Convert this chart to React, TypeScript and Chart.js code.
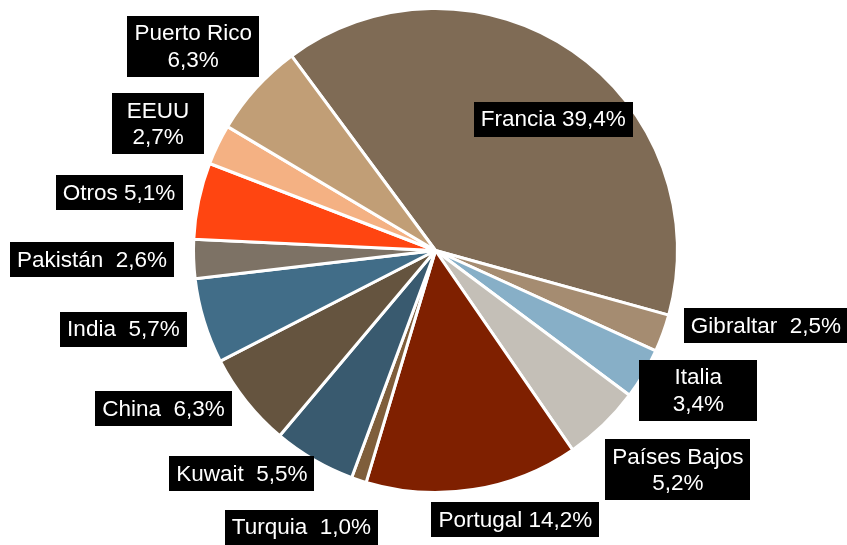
import React, { useEffect, useRef } from "react";
import { Chart, registerables } from "chart.js";

Chart.register(...registerables);

const countries = [
  "Francia", "Gibraltar", "Italia", "Países Bajos", "Portugal", "Turquia",
  "Kuwait", "China", "India", "Pakistán", "Otros", "EEUU", "Puerto Rico",
];
const shares = [39.4, 2.5, 3.4, 5.2, 14.2, 1.0, 5.5, 6.3, 5.7, 2.6, 5.1, 2.7, 6.3];
const separators = [" ", "  ", "\n", "\n", " ", "  ", "  ", "  ", "  ", "  ", " ", "\n", "\n"];
const colors = [
  "#7f6b55", "#a58c71", "#87afc7", "#c4bfb7", "#7f2000", "#7f5e3b",
  "#395a6f", "#65543f", "#416d88", "#7d7265", "#ff4511", "#f4b183", "#c19e76",
];
// label placement: angle tweak (deg) from slice mid-angle, distance as fraction of radius
const labelAngleDelta = [7.3, -7.2, -2.6, -4, -7.6, 7.4, 10.8, 8.4, 2.8, 0.5, -1.5, -1.4, -2];
const labelDist = [0.73, 1.4, 1.23, 1.35, 1.16, 1.27, 1.22, 1.3, 1.33, 1.42, 1.33, 1.26, 1.31];
const labelMinWidth = [0, 0, 118, 0, 0, 0, 0, 0, 0, 0, 0, 92, 0];

const labelPlugin = {
  id: "boxLabels",
  afterDraw(chart: any) {
    const ctx = chart.ctx;
    const meta = chart.getDatasetMeta(0);
    ctx.save();
    ctx.font = '22.5px "Liberation Sans", Arial, sans-serif';
    ctx.textAlign = "center";
    ctx.textBaseline = "middle";
    const lineH = 26.5;
    meta.data.forEach((arc: any, i: number) => {
      const { x, y, startAngle, endAngle, outerRadius } = arc.getProps(
        ["x", "y", "startAngle", "endAngle", "outerRadius"], true);
      const mid = (startAngle + endAngle) / 2 + (labelAngleDelta[i] * Math.PI) / 180;
      const d = outerRadius * labelDist[i];
      const cx = x + Math.cos(mid) * d;
      const cy = y + Math.sin(mid) * d;
      const text = countries[i] + separators[i] + shares[i].toFixed(1).replace(".", ",") + "%";
      const lines = text.split("\n");
      const w = Math.max(labelMinWidth[i], Math.max(...lines.map((l) => ctx.measureText(l).width)) + 14);
      const h = lines.length * lineH + 8;
      ctx.fillStyle = "#000";
      ctx.fillRect(Math.round(cx - w / 2), Math.round(cy - h / 2), Math.round(w), Math.round(h));
      ctx.fillStyle = "#fff";
      lines.forEach((l, k) => {
        ctx.fillText(l, cx, cy - ((lines.length - 1) * lineH) / 2 + k * lineH + 1);
      });
    });
    ctx.restore();
  },
};

export default function App() {
  const ref = useRef<HTMLCanvasElement>(null);
  useEffect(() => {
    const chart = new Chart(ref.current!, {
      type: "pie",
      data: {
        labels: countries,
        datasets: [
          {
            data: shares,
            backgroundColor: colors,
            borderColor: "#ffffff",
            borderWidth: 3,
          },
        ],
      },
      options: {
        responsive: false,
        animation: false,
        rotation: -36.5,
        layout: { padding: { left: 192, right: 168, top: 7, bottom: 51 } },
        plugins: { legend: { display: false }, tooltip: { enabled: false } },
      },
      plugins: [labelPlugin],
    });
    return () => chart.destroy();
  }, []);
  return (
    <div style={{ position: "fixed", left: 0, top: 0, width: 847, height: 545, background: "#fff" }}>
      <canvas ref={ref} width={847} height={545} />
    </div>
  );
}
